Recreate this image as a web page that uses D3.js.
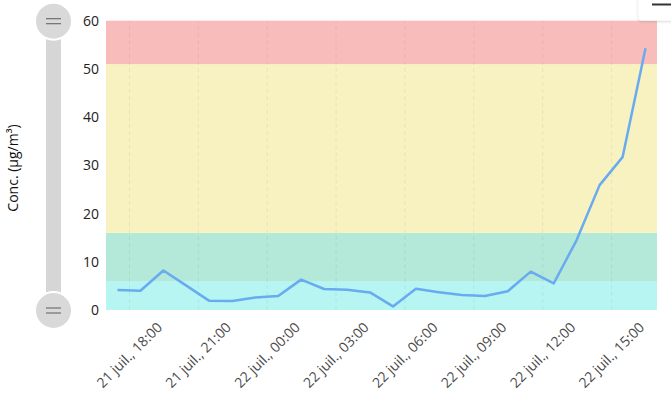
<!DOCTYPE html>
<html>
<head>
<meta charset="utf-8">
<script src="https://cdn.jsdelivr.net/npm/d3@7"></script>
<style>
  html, body { margin: 0; padding: 0; background: #fff; }
  svg { display: block; font-family: "Open Sans", "Noto Sans", sans-serif; }
</style>
</head>
<body>
<svg id="chart" width="671" height="403"></svg>
<script>
// ---- data ----
const times = [
  "2024-07-21T17:30", "2024-07-21T18:30", "2024-07-21T19:30", "2024-07-21T20:30",
  "2024-07-21T21:30", "2024-07-21T22:30", "2024-07-21T23:30", "2024-07-22T00:30",
  "2024-07-22T01:30", "2024-07-22T02:30", "2024-07-22T03:30", "2024-07-22T04:30",
  "2024-07-22T05:30", "2024-07-22T06:30", "2024-07-22T07:30", "2024-07-22T08:30",
  "2024-07-22T09:30", "2024-07-22T10:30", "2024-07-22T11:30", "2024-07-22T12:30",
  "2024-07-22T13:30", "2024-07-22T14:30", "2024-07-22T15:30", "2024-07-22T16:30"
];
const values = [
  4.15, 4.0, 8.2, 5.05, 1.9, 1.85, 2.6, 2.9,
  6.3, 4.35, 4.2, 3.65, 0.75, 4.4, 3.7, 3.1,
  2.9, 3.9, 7.95, 5.5, 14.5, 25.9, 31.7, 54.3
];
const xDomain = ["2024-07-21T17:00", "2024-07-22T17:00"];
const xTicks = [
  "2024-07-21T18:00", "2024-07-21T21:00", "2024-07-22T00:00", "2024-07-22T03:00",
  "2024-07-22T06:00", "2024-07-22T09:00", "2024-07-22T12:00", "2024-07-22T15:00"
];
const yTicks = [0, 10, 20, 30, 40, 50, 60];
const bandLows  = [0, 6, 16, 51];
const bandHighs = [6, 16, 51, 60];
const bandColors = ["#b6f5f1", "#b4e8d8", "#f7f2c0", "#f8bdbb"];
const yTitle = "Conc. (µg/m³)";

// ---- setup ----
const parse = d3.timeParse("%Y-%m-%dT%H:%M");
const fr = d3.timeFormatLocale({
  dateTime: "%A %e %B %Y à %X", date: "%d/%m/%Y", time: "%H:%M:%S",
  periods: ["AM", "PM"],
  days: ["dimanche","lundi","mardi","mercredi","jeudi","vendredi","samedi"],
  shortDays: ["dim.","lun.","mar.","mer.","jeu.","ven.","sam."],
  months: ["janvier","février","mars","avril","mai","juin","juillet","août","septembre","octobre","novembre","décembre"],
  shortMonths: ["janv.","févr.","mars","avr.","mai","juin","juil.","août","sept.","oct.","nov.","déc."]
});
const fmt = fr.format("%-d %b, %H:%M");

const svg = d3.select("#chart");
const pLeft = 106, pRight = 657, pTop = 20.7, pBottom = 310;

const x = d3.scaleTime().domain(xDomain.map(parse)).range([pLeft, pRight]);
const y = d3.scaleLinear().domain([0, 60]).range([pBottom, pTop]);

// bands
svg.append("g").selectAll("rect").data(bandLows).join("rect")
  .attr("x", pLeft).attr("width", pRight - pLeft)
  .attr("y", (d, i) => y(bandHighs[i]))
  .attr("height", (d, i) => y(d) - y(bandHighs[i]))
  .attr("fill", (d, i) => bandColors[i]);

// vertical dashed gridlines + x axis labels
const xAxis = d3.axisBottom(x).tickValues(xTicks.map(parse)).tickFormat(fmt).tickSize(0);
const gx = svg.append("g").attr("transform", `translate(0,${pBottom})`).call(xAxis);
gx.select(".domain").remove();
gx.selectAll(".tick line").attr("y2", -(pBottom - pTop))
  .attr("stroke", "rgba(0,0,0,0.06)").attr("stroke-dasharray", "4,3");
gx.selectAll(".tick text")
  .attr("font-family", "Open Sans, Noto Sans, sans-serif")
  .attr("font-size", 14).attr("fill", "#4a4a4a")
  .attr("text-anchor", "middle").attr("dy", "0.35em")
  .attr("y", 0)
  .attr("transform", "translate(0,45) rotate(-45)");

// y axis
const yAxis = d3.axisLeft(y).tickValues(yTicks).tickSize(0).tickPadding(0);
const gy = svg.append("g").attr("transform", `translate(${pLeft - 7},0)`).call(yAxis);
gy.select(".domain").remove();
gy.selectAll(".tick text").attr("font-family", "Open Sans, Noto Sans, sans-serif")
  .attr("font-size", 14).attr("fill", "#222");

// line
const pts = times.map((t, i) => [parse(t), values[i]]);
svg.append("path").datum(pts)
  .attr("fill", "none").attr("stroke", "#68abf0").attr("stroke-width", 2.5)
  .attr("stroke-linejoin", "round")
  .attr("d", d3.line().x(d => x(d[0])).y(d => y(d[1])));

// y title
svg.append("text")
  .attr("transform", `translate(13,168) rotate(-90)`)
  .attr("text-anchor", "middle").attr("dy", "0.35em")
  .attr("font-size", 14).attr("fill", "#111")
  .text(yTitle);

// range slider
const sx = 53.5;
svg.append("rect").attr("x", sx - 7.5).attr("width", 15)
  .attr("y", y(60)).attr("height", y(0) - y(60)).attr("fill", "#d6d6d6");
const handles = svg.append("g").selectAll("g").data([60, 0]).join("g")
  .attr("transform", d => `translate(${sx},${y(d) + 0.5})`);
handles.append("circle").attr("r", 18.5).attr("fill", "#d9d9d9")
  .attr("stroke", "#fff").attr("stroke-width", 2);
handles.selectAll("line").data([-2.5, 2.5]).join("line")
  .attr("x1", -7.5).attr("x2", 7.5).attr("y1", d => d).attr("y2", d => d)
  .attr("stroke", "#666").attr("stroke-width", 1.1);

// top-right menu button
const defs = svg.append("defs");
const f = defs.append("filter").attr("id", "sh").attr("x", "-50%").attr("y", "-50%").attr("width", "200%").attr("height", "200%");
f.append("feDropShadow").attr("dx", 0).attr("dy", 1).attr("stdDeviation", 1.5).attr("flood-color", "#000").attr("flood-opacity", 0.18);
svg.append("rect").attr("x", 638.5).attr("y", -6).attr("width", 50).attr("height", 26.5)
  .attr("rx", 3).attr("fill", "#fff").attr("filter", "url(#sh)");
svg.append("line").attr("x1", 652).attr("x2", 671).attr("y1", 4.5).attr("y2", 4.5)
  .attr("stroke", "#333").attr("stroke-width", 2);
</script>
</body>
</html>
